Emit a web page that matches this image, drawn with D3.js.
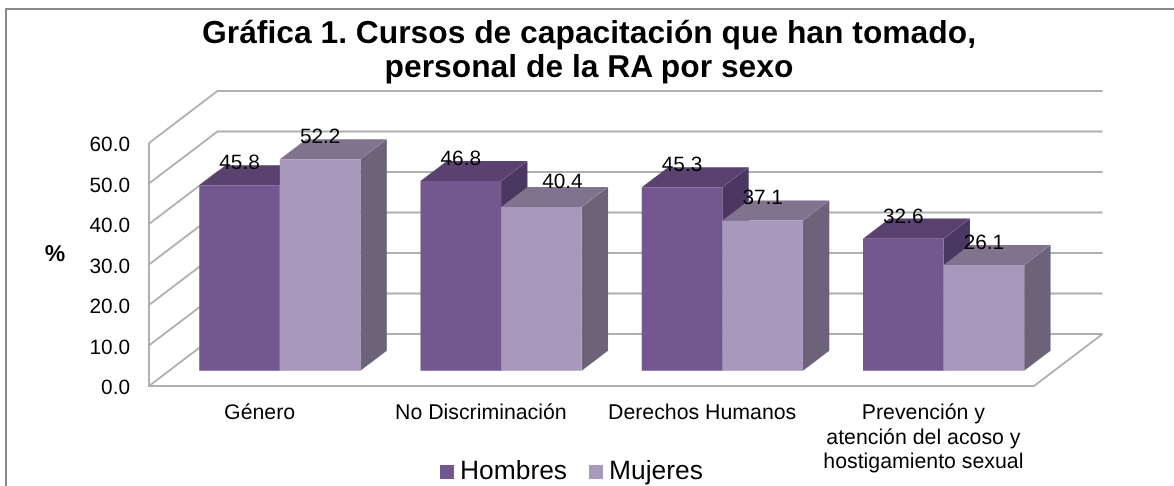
<!DOCTYPE html>
<html>
<head>
<meta charset="utf-8">
<script src="https://cdn.jsdelivr.net/npm/d3@7"></script>
<style>
    html, body { margin: 0; padding: 0; background: #fff; overflow: hidden; }
    svg { display: block; }
    text { font-family: "Liberation Sans", Arial, sans-serif; fill: #000; text-rendering: geometricPrecision; }
</style>
</head>
<body>
<div id="chart"></div>
<script>
// chart data
const categories = ["Género", "No Discriminación", "Derechos Humanos", "Prevención y|atención del acoso y|hostigamiento sexual"];
const seriesNames = ["Hombres", "Mujeres"];
const hombres = [45.8, 46.8, 45.3, 32.6];
const mujeres = [52.2, 40.4, 37.1, 26.1];
const yTicks = [0, 10, 20, 30, 40, 50, 60];
const titleLines = ["Gráfica 1. Cursos de capacitación que han tomado,", "personal de la RA por sexo"];

const frontColors = ["#72588e", "#a898bc"];
const topColors = ["#5a4270", "#80738d"];
const sideColors = ["#4b3760", "#6c6379"];
const gridColor = "#b0b0b0";

const width = 1174, height = 486;

// front edge of the floor, the depth goes up and to the right
const floorLeft = 149, floorRight = 1034, floorY = 386;
const depthX = 68.5, depthY = -52;
// bars stand between these two fractions of the depth
const barDepth = [0.295, 0.68];

const svg = d3.select("#chart").append("svg")
    .attr("width", width)
    .attr("height", height);

// the reference is a slightly soft picture
svg.append("filter")
    .attr("id", "soft")
    .attr("x", 0).attr("y", 0).attr("width", "100%").attr("height", "100%")
    .append("feGaussianBlur")
    .attr("stdDeviation", 0.45);

const root = svg.append("g").attr("filter", "url(#soft)");

root.append("rect")
    .attr("width", width)
    .attr("height", height)
    .attr("fill", "#fff");

const x0 = d3.scaleBand()
    .domain(d3.range(categories.length))
    .range([floorLeft, floorRight]);

const barWidth = 80.6;
const x1 = d3.scaleBand()
    .domain(d3.range(seriesNames.length))
    .range([x0.bandwidth() / 2 - barWidth, x0.bandwidth() / 2 + barWidth]);

const yScale = d3.scaleLinear().domain([0, 60]).range([0, -243]);

// 3d position: x in pixels on the front edge, v in data units, d in 0..1 of the depth
const project = (x, v, d) => [x + d * depthX, floorY + yScale(v) + d * depthY];
const pts = arr => arr.map(p => p.join(",")).join(" ");

// 1. Outer frame (only left and top show in the picture)
root.append("path")
    .attr("d", "M6,486V9H1174")
    .attr("fill", "none")
    .attr("stroke", "#8a8a8a")
    .attr("stroke-width", 2);

// 2. Walls and floor
const walls = root.append("g")
    .attr("fill", "none")
    .attr("stroke", gridColor)
    .attr("stroke-width", 2);

walls.selectAll(".grid")
    .data(yTicks)
    .join("polyline")
    .attr("class", "grid")
    .attr("points", d => pts([
        project(floorLeft, d, 0),
        project(floorLeft, d, 1),
        project(floorRight, d, 1)
    ]));

walls.append("polyline")
    .attr("points", pts([
        project(floorLeft, 60, 0),
        project(floorLeft, 0, 0),
        project(floorRight, 0, 0),
        project(floorRight, 0, 1)
    ]));

// 3. Bars, Hombres go first so Mujeres covers its side
const rows = categories.flatMap((c, i) => [hombres[i], mujeres[i]].map((v, s) => ({
    x: x0(i) + x1(s),
    v: v,
    s: s,
    // the 40.4 label was dragged off its bar in the original
    labelDx: i === 1 && s === 1 ? 21 : 0,
    labelDy: i === 1 && s === 1 ? -19 : -16
})));

const bars = root.selectAll(".bar")
    .data(rows)
    .join("g")
    .attr("class", "bar");

bars.append("polygon") // side
    .attr("fill", d => sideColors[d.s])
    .attr("points", d => {
        const xr = d.x + x1.bandwidth();
        return pts([
            project(xr, 0, barDepth[0]),
            project(xr, d.v, barDepth[0]),
            project(xr, d.v, barDepth[1]),
            project(xr, 0, barDepth[1])
        ]);
    });

bars.append("polygon") // top
    .attr("fill", d => topColors[d.s])
    .attr("points", d => {
        const xr = d.x + x1.bandwidth();
        return pts([
            project(d.x, d.v, barDepth[0]),
            project(xr, d.v, barDepth[0]),
            project(xr, d.v, barDepth[1]),
            project(d.x, d.v, barDepth[1])
        ]);
    });

bars.append("polygon") // front
    .attr("fill", d => frontColors[d.s])
    .attr("points", d => {
        const xr = d.x + x1.bandwidth();
        return pts([
            project(d.x, 0, barDepth[0]),
            project(xr, 0, barDepth[0]),
            project(xr, d.v, barDepth[0]),
            project(d.x, d.v, barDepth[0])
        ]);
    });

// 4. Value labels
root.selectAll(".value")
    .data(rows)
    .join("text")
    .attr("class", "value")
    .attr("x", d => project(d.x + x1.bandwidth() / 2, d.v, barDepth[0])[0] + d.labelDx)
    .attr("y", d => project(d.x, d.v, barDepth[0])[1] + d.labelDy)
    .attr("text-anchor", "middle")
    .attr("font-size", 20.8)
    .text(d => d.v.toFixed(1));

// 5. Y axis labels
root.selectAll(".tick-label")
    .data(yTicks)
    .join("text")
    .attr("class", "tick-label")
    .attr("x", 130)
    .attr("y", d => floorY + yScale(d) + 8)
    .attr("text-anchor", "end")
    .attr("font-size", 20.8)
    .text(d => d.toFixed(1));

root.append("text")
    .attr("x", 55)
    .attr("y", 261)
    .attr("text-anchor", "middle")
    .attr("font-size", 23)
    .attr("font-weight", "bold")
    .text("%");

// 6. Category labels
root.selectAll(".category")
    .data(categories)
    .join("text")
    .attr("class", "category")
    .attr("text-anchor", "middle")
    .attr("font-size", 21.3)
    .each(function (d, i) {
        d3.select(this).selectAll("tspan")
            .data(d.split("|"))
            .join("tspan")
            .attr("x", x0(i) + x0.bandwidth() / 2)
            .attr("y", (t, j) => 419 + j * 24.5)
            .text(t => t);
    });

// 7. Title
root.selectAll(".title")
    .data(titleLines)
    .join("text")
    .attr("class", "title")
    .attr("x", 589)
    .attr("y", (d, i) => 43 + i * 33.5)
    .attr("text-anchor", "middle")
    .attr("font-size", 31.8)
    .attr("font-weight", "bold")
    .text(d => d);

// 8. Legend
const legendX = [440, 589];
const legend = root.selectAll(".legend")
    .data(seriesNames)
    .join("g")
    .attr("class", "legend")
    .attr("transform", (d, i) => `translate(${legendX[i]},465)`);

legend.append("rect")
    .attr("width", 14)
    .attr("height", 14)
    .attr("fill", (d, i) => frontColors[i]);

legend.append("text")
    .attr("x", 20)
    .attr("y", 14)
    .attr("font-size", 26.4)
    .text(d => d);
</script>
</body>
</html>
